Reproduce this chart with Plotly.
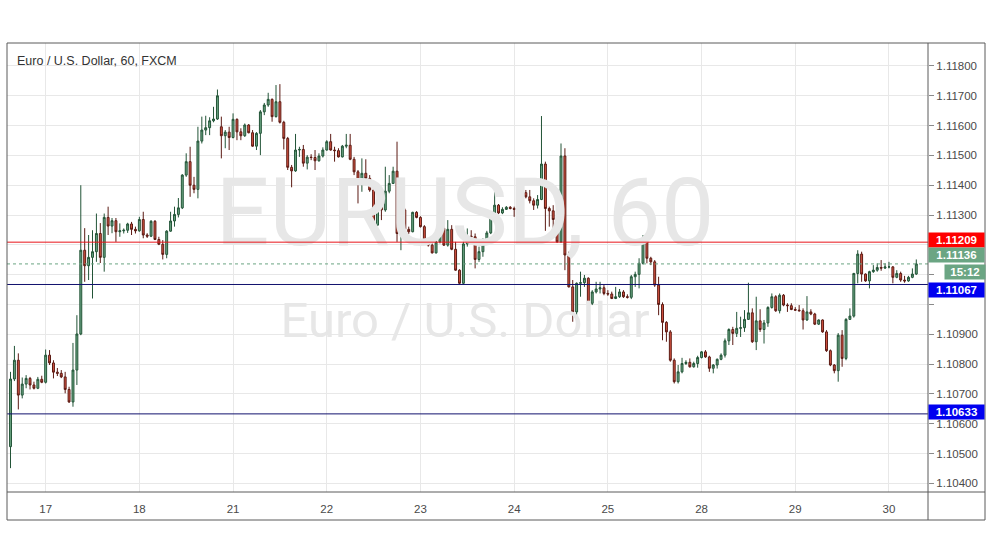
import plotly.graph_objects as go
from datetime import datetime, timedelta

# ---------------- data (EUR/USD, 60 min, FXCM) ----------------
open_ = [
    1.10523, 1.10750, 1.10813, 1.10696, 1.10733, 1.10752, 1.10730, 1.10719, 1.10749, 1.10739,
    1.10830, 1.10804, 1.10773, 1.10769, 1.10757, 1.10715, 1.10673, 1.10780, 1.10901, 1.11182,
    1.11130, 1.11158, 1.11177, 1.11238, 1.11158, 1.11292, 1.11263, 1.11281, 1.11244, 1.11247,
    1.11249, 1.11270, 1.11252, 1.11247, 1.11285, 1.11233, 1.11229, 1.11279, 1.11218, 1.11202,
    1.11168, 1.11246, 1.11280, 1.11302, 1.11324, 1.11434, 1.11479, 1.11400, 1.11386, 1.11548,
    1.11585, 1.11593, 1.11616, 1.11622, 1.11596, 1.11566, 1.11578, 1.11560, 1.11621, 1.11579,
    1.11566, 1.11602, 1.11576, 1.11531, 1.11574, 1.11646, 1.11669, 1.11688, 1.11630, 1.11680,
    1.11611, 1.11557, 1.11460, 1.11448, 1.11518, 1.11520, 1.11474, 1.11494, 1.11493, 1.11482,
    1.11498, 1.11518, 1.11546, 1.11518, 1.11516, 1.11495, 1.11531, 1.11534, 1.11487, 1.11445,
    1.11412, 1.11440, 1.11423, 1.11384, 1.11266, 1.11347, 1.11317, 1.11380, 1.11406, 1.11447,
    1.11238, 1.11317, 1.11252, 1.11244, 1.11309, 1.11292, 1.11261, 1.11216, 1.11199, 1.11173,
    1.11210, 1.11255, 1.11199, 1.11252, 1.11185, 1.11115, 1.11071, 1.11203, 1.11229, 1.11227,
    1.11151, 1.11177, 1.11210, 1.11240, 1.11289, 1.11333, 1.11307, 1.11319, 1.11326, 1.11322,
    1.11319, 1.11389, 1.11375, 1.11361, 1.11348, 1.11333, 1.11352, 1.11471, 1.11322, 1.11314,
    1.11285, 1.11210, 1.11498, 1.11166, 1.11059, 1.10975, 1.11071, 1.11073, 1.11088, 1.11004,
    1.11042, 1.11052, 1.11056, 1.11037, 1.11035, 1.11020, 1.11026, 1.11042, 1.11026, 1.11024,
    1.11093, 1.11101, 1.11138, 1.11210, 1.11155, 1.11143, 1.11065, 1.11000, 1.10940, 1.10908,
    1.10813, 1.10741, 1.10774, 1.10802, 1.10806, 1.10791, 1.10802, 1.10822, 1.10841, 1.10824,
    1.10786, 1.10797, 1.10816, 1.10830, 1.10878, 1.10916, 1.10903, 1.10920, 1.10922, 1.10950,
    1.10972, 1.10875, 1.10945, 1.10916, 1.10938, 1.10990, 1.11026, 1.10979, 1.11031, 1.10998,
    1.10996, 1.10983, 1.10981, 1.10979, 1.10948, 1.10975, 1.10968, 1.10934, 1.10948, 1.10908,
    1.10845, 1.10797, 1.10778, 1.10897, 1.10819, 1.10950, 1.10961, 1.11104, 1.11169, 1.11102,
    1.11079, 1.11110, 1.11115, 1.11124, 1.11122, 1.11126, 1.11126, 1.11091, 1.11104, 1.11082,
    1.11079, 1.11091, 1.11102,
]
high = [
    1.10774, 1.10861, 1.10836, 1.10755, 1.10763, 1.10757, 1.10741, 1.10757, 1.10761, 1.10849,
    1.10847, 1.10813, 1.10787, 1.10780, 1.10774, 1.10724, 1.10871, 1.10964, 1.11400, 1.11256,
    1.11233, 1.11249, 1.11305, 1.11273, 1.11305, 1.11328, 1.11290, 1.11290, 1.11272, 1.11255,
    1.11274, 1.11277, 1.11261, 1.11294, 1.11311, 1.11239, 1.11283, 1.11283, 1.11227, 1.11216,
    1.11249, 1.11311, 1.11328, 1.11357, 1.11437, 1.11507, 1.11529, 1.11428, 1.11596, 1.11630,
    1.11633, 1.11628, 1.11663, 1.11721, 1.11630, 1.11585, 1.11596, 1.11641, 1.11624, 1.11591,
    1.11607, 1.11605, 1.11585, 1.11578, 1.11652, 1.11676, 1.11710, 1.11691, 1.11736, 1.11739,
    1.11616, 1.11562, 1.11468, 1.11572, 1.11529, 1.11535, 1.11501, 1.11504, 1.11518, 1.11507,
    1.11527, 1.11551, 1.11572, 1.11529, 1.11524, 1.11535, 1.11572, 1.11572, 1.11495, 1.11451,
    1.11490, 1.11487, 1.11434, 1.11393, 1.11360, 1.11352, 1.11462, 1.11434, 1.11462, 1.11546,
    1.11361, 1.11322, 1.11261, 1.11311, 1.11313, 1.11296, 1.11266, 1.11218, 1.11210, 1.11214,
    1.11258, 1.11292, 1.11283, 1.11266, 1.11210, 1.11118, 1.11210, 1.11255, 1.11249, 1.11238,
    1.11194, 1.11222, 1.11247, 1.11294, 1.11412, 1.11337, 1.11326, 1.11330, 1.11330, 1.11328,
    1.11393, 1.11423, 1.11384, 1.11384, 1.11356, 1.11367, 1.11632, 1.11479, 1.11328, 1.11333,
    1.11296, 1.11540, 1.11524, 1.11177, 1.11082, 1.11074, 1.11110, 1.11099, 1.11091, 1.11048,
    1.11076, 1.11076, 1.11065, 1.11048, 1.11043, 1.11059, 1.11052, 1.11048, 1.11034, 1.11099,
    1.11110, 1.11155, 1.11233, 1.11231, 1.11160, 1.11149, 1.11093, 1.11007, 1.10944, 1.10914,
    1.10819, 1.10797, 1.10821, 1.10813, 1.10819, 1.10808, 1.10828, 1.10844, 1.10847, 1.10828,
    1.10800, 1.10819, 1.10836, 1.10886, 1.10920, 1.10925, 1.10975, 1.10959, 1.10981, 1.11073,
    1.10987, 1.11026, 1.10984, 1.10948, 1.10994, 1.11037, 1.11031, 1.11037, 1.11035, 1.11004,
    1.11004, 1.10991, 1.10998, 1.10987, 1.11028, 1.10984, 1.10972, 1.10950, 1.10950, 1.10914,
    1.10849, 1.10800, 1.10904, 1.10914, 1.10954, 1.10987, 1.11106, 1.11182, 1.11177, 1.11104,
    1.11113, 1.11132, 1.11138, 1.11149, 1.11138, 1.11143, 1.11129, 1.11115, 1.11110, 1.11096,
    1.11096, 1.11121, 1.11151,
]
low = [
    1.10451, 1.10743, 1.10648, 1.10685, 1.10719, 1.10715, 1.10715, 1.10716, 1.10736, 1.10735,
    1.10797, 1.10752, 1.10760, 1.10753, 1.10702, 1.10670, 1.10657, 1.10730, 1.10897, 1.11076,
    1.11082, 1.11020, 1.11143, 1.11139, 1.11110, 1.11233, 1.11239, 1.11210, 1.11227, 1.11238,
    1.11240, 1.11233, 1.11238, 1.11244, 1.11222, 1.11223, 1.11226, 1.11216, 1.11199, 1.11151,
    1.11155, 1.11244, 1.11261, 1.11292, 1.11320, 1.11428, 1.11361, 1.11373, 1.11356, 1.11540,
    1.11568, 1.11568, 1.11611, 1.11619, 1.11490, 1.11524, 1.11518, 1.11557, 1.11551, 1.11551,
    1.11562, 1.11574, 1.11529, 1.11518, 1.11501, 1.11635, 1.11663, 1.11613, 1.11627, 1.11607,
    1.11520, 1.11451, 1.11393, 1.11445, 1.11495, 1.11462, 1.11453, 1.11484, 1.11451, 1.11479,
    1.11493, 1.11516, 1.11516, 1.11479, 1.11493, 1.11493, 1.11524, 1.11484, 1.11434, 1.11339,
    1.11378, 1.11412, 1.11378, 1.11233, 1.11263, 1.11283, 1.11311, 1.11373, 1.11404, 1.11210,
    1.11182, 1.11249, 1.11236, 1.11242, 1.11289, 1.11258, 1.11214, 1.11194, 1.11171, 1.11171,
    1.11205, 1.11196, 1.11194, 1.11182, 1.11113, 1.11068, 1.11068, 1.11194, 1.11205, 1.11121,
    1.11143, 1.11160, 1.11207, 1.11236, 1.11283, 1.11303, 1.11303, 1.11317, 1.11319, 1.11294,
    1.11317, 1.11373, 1.11356, 1.11339, 1.11317, 1.11322, 1.11350, 1.11247, 1.11261, 1.11244,
    1.11207, 1.11207, 1.11115, 1.11057, 1.10942, 1.10937, 1.11026, 1.11059, 1.10998, 1.10998,
    1.11037, 1.11037, 1.11031, 1.11029, 1.11018, 1.11018, 1.11022, 1.11022, 1.11020, 1.11018,
    1.11059, 1.11054, 1.11134, 1.11138, 1.11132, 1.11059, 1.10964, 1.10880, 1.10875, 1.10808,
    1.10735, 1.10735, 1.10769, 1.10797, 1.10788, 1.10788, 1.10788, 1.10819, 1.10821, 1.10774,
    1.10769, 1.10785, 1.10813, 1.10822, 1.10864, 1.10864, 1.10891, 1.10891, 1.10908, 1.10948,
    1.10871, 1.10847, 1.10908, 1.10869, 1.10925, 1.10986, 1.10975, 1.10970, 1.10994, 1.10975,
    1.10981, 1.10979, 1.10976, 1.10916, 1.10945, 1.10964, 1.10931, 1.10931, 1.10905, 1.10841,
    1.10793, 1.10769, 1.10741, 1.10791, 1.10813, 1.10948, 1.10956, 1.11071, 1.11076, 1.11076,
    1.11054, 1.11106, 1.11110, 1.11113, 1.11119, 1.11121, 1.11071, 1.11088, 1.11076, 1.11073,
    1.11076, 1.11088, 1.11099,
]
close = [
    1.10750, 1.10813, 1.10696, 1.10733, 1.10752, 1.10730, 1.10719, 1.10749, 1.10739, 1.10830,
    1.10804, 1.10773, 1.10769, 1.10757, 1.10715, 1.10673, 1.10780, 1.10901, 1.11182, 1.11130,
    1.11158, 1.11177, 1.11238, 1.11158, 1.11292, 1.11263, 1.11281, 1.11244, 1.11247, 1.11249,
    1.11270, 1.11252, 1.11247, 1.11285, 1.11233, 1.11229, 1.11279, 1.11218, 1.11202, 1.11168,
    1.11246, 1.11280, 1.11302, 1.11324, 1.11434, 1.11479, 1.11400, 1.11386, 1.11548, 1.11585,
    1.11593, 1.11616, 1.11622, 1.11700, 1.11566, 1.11578, 1.11560, 1.11621, 1.11579, 1.11566,
    1.11602, 1.11576, 1.11531, 1.11574, 1.11646, 1.11669, 1.11688, 1.11630, 1.11680, 1.11611,
    1.11557, 1.11460, 1.11448, 1.11518, 1.11520, 1.11474, 1.11494, 1.11493, 1.11482, 1.11498,
    1.11518, 1.11546, 1.11518, 1.11516, 1.11495, 1.11531, 1.11534, 1.11487, 1.11445, 1.11412,
    1.11440, 1.11423, 1.11384, 1.11266, 1.11347, 1.11317, 1.11380, 1.11406, 1.11447, 1.11238,
    1.11317, 1.11252, 1.11244, 1.11309, 1.11292, 1.11261, 1.11216, 1.11199, 1.11173, 1.11210,
    1.11255, 1.11199, 1.11252, 1.11185, 1.11115, 1.11071, 1.11203, 1.11229, 1.11227, 1.11151,
    1.11177, 1.11210, 1.11240, 1.11289, 1.11333, 1.11307, 1.11319, 1.11326, 1.11322, 1.11319,
    1.11389, 1.11375, 1.11361, 1.11348, 1.11333, 1.11352, 1.11471, 1.11322, 1.11314, 1.11285,
    1.11210, 1.11498, 1.11166, 1.11059, 1.10975, 1.11071, 1.11073, 1.11088, 1.11004, 1.11042,
    1.11052, 1.11056, 1.11037, 1.11035, 1.11020, 1.11026, 1.11042, 1.11026, 1.11024, 1.11093,
    1.11101, 1.11138, 1.11210, 1.11155, 1.11143, 1.11065, 1.11000, 1.10940, 1.10908, 1.10813,
    1.10741, 1.10774, 1.10802, 1.10806, 1.10791, 1.10802, 1.10822, 1.10841, 1.10824, 1.10786,
    1.10797, 1.10816, 1.10830, 1.10878, 1.10916, 1.10903, 1.10920, 1.10922, 1.10950, 1.10972,
    1.10875, 1.10945, 1.10916, 1.10938, 1.10990, 1.11026, 1.10979, 1.11031, 1.10998, 1.10996,
    1.10983, 1.10981, 1.10979, 1.10948, 1.10975, 1.10968, 1.10934, 1.10948, 1.10908, 1.10845,
    1.10797, 1.10778, 1.10897, 1.10819, 1.10950, 1.10961, 1.11104, 1.11169, 1.11102, 1.11079,
    1.11110, 1.11115, 1.11124, 1.11122, 1.11126, 1.11126, 1.11091, 1.11104, 1.11082, 1.11079,
    1.11091, 1.11102, 1.11136,
]

first_bar_time = datetime(2019, 10, 16, 15, 0)
title_text = "Euro / U.S. Dollar, 60, FXCM"
watermark_main = "EURUSD, 60"
watermark_sub = "Euro / U.S. Dollar"
resistance_level = 1.11209
support_levels = [1.11067, 1.10633]
last_price = 1.11136
countdown_text = "15:12"
price_ticks = [1.104, 1.105, 1.106, 1.107, 1.108, 1.109, 1.110,
               1.111, 1.112, 1.113, 1.114, 1.115, 1.116, 1.117, 1.118]
# tick labels hidden behind the price badges on the scale (as in the reference)
hidden_price_ticks = [1.110, 1.111, 1.112]

# ---------------- hourly FX session timeline (no weekend hours) ----------------
bar_times = []
t = first_bar_time
while len(bar_times) < len(close):
    wd = t.weekday()
    closed = (wd == 4 and t.hour >= 21) or wd == 5 or (wd == 6 and t.hour < 21)
    if not closed:
        bar_times.append(t)
    t += timedelta(hours=1)
bar_index = list(range(len(close)))
day_ticks = [i for i, bt in enumerate(bar_times) if bt.hour == 0]
day_labels = [str(bar_times[i].day) for i in day_ticks]

price_ticktext = ["" if any(abs(p - h) < 1e-9 for h in hidden_price_ticks) else "%.5f" % p
                  for p in price_ticks]

# ---------------- geometry ----------------
W, H = 991, 556
ML, MR, MT, MB = 7, 63, 43, 64
PW, PH = W - ML - MR, H - MT - MB


def px_x(p):
    return (p - ML) / PW


def px_y(p):
    return (H - MB - p) / PH


x_range = [-0.9, 235.0]
y_range = [1.10371, 1.11877]

UP, DOWN = "#6ba583", "#d75442"
UP_LINE, DOWN_LINE = "#225437", "#5b1a13"
GRID = "#e8e8e8"
AXIS_TXT = "#4a4a4a"
FONT = "Liberation Sans, Arial, sans-serif"

fig = go.Figure()

# watermark (drawn first so candles sit on top)
wx = x_range[0] + px_x(465) * (x_range[1] - x_range[0])
wy1 = y_range[0] + px_y(221) * (y_range[1] - y_range[0])
wy2 = y_range[0] + px_y(325) * (y_range[1] - y_range[0])
fig.add_trace(go.Scatter(
    x=[wx, wx], y=[wy1, wy2], mode="text",
    text=[watermark_main, watermark_sub],
    textfont=dict(size=[95, 49], color="#e7e7e7", family="Roboto, Arial, sans-serif"),
    textposition="middle center", hoverinfo="skip", showlegend=False,
))

fig.add_trace(go.Candlestick(
    x=bar_index, open=open_, high=high, low=low, close=close,
    increasing=dict(line=dict(color=UP_LINE, width=1), fillcolor=UP),
    decreasing=dict(line=dict(color=DOWN_LINE, width=1), fillcolor=DOWN),
    whiskerwidth=0, hoverinfo="skip", showlegend=False,
))

shapes = []
# level lines
shapes.append(dict(type="line", xref="paper", yref="y", x0=0, x1=1,
                   y0=resistance_level, y1=resistance_level,
                   line=dict(color="#e8141a", width=1)))
for lv in support_levels:
    shapes.append(dict(type="line", xref="paper", yref="y", x0=0, x1=1,
                       y0=lv, y1=lv, line=dict(color="#12126e", width=1)))
shapes.append(dict(type="line", xref="paper", yref="y", x0=0, x1=1,
                   y0=last_price, y1=last_price,
                   line=dict(color=UP, width=1, dash="dot")))
# frame
frame_c = "#5a5a5a"
shapes.append(dict(type="rect", xref="paper", yref="paper",
                   x0=px_x(7), x1=px_x(985), y0=px_y(520), y1=px_y(43),
                   line=dict(color=frame_c, width=1), fillcolor="rgba(0,0,0,0)"))
shapes.append(dict(type="line", xref="paper", yref="paper",
                   x0=px_x(928), x1=px_x(928), y0=px_y(520), y1=px_y(43),
                   line=dict(color=frame_c, width=1)))
shapes.append(dict(type="line", xref="paper", yref="paper",
                   x0=px_x(7), x1=px_x(985), y0=px_y(492), y1=px_y(492),
                   line=dict(color=frame_c, width=1)))

annotations = [
    dict(text=title_text, xref="paper", yref="paper", x=px_x(15), y=px_y(61),
         xanchor="left", yanchor="middle", showarrow=False,
         font=dict(size=12.5, color="#333333", family=FONT)),
]


def price_label(val, text, bg, yshift=0, width=53, left=928):
    return dict(text="<b>%s</b>" % text, xref="paper", yref="y",
                x=px_x(left), y=val, xanchor="left", yanchor="middle",
                yshift=yshift, showarrow=False, bgcolor=bg, width=width,
                height=12, borderpad=1, align="center",
                font=dict(size=11.5, color="white", family=FONT))


annotations.append(price_label(resistance_level, "%.5f" % resistance_level, "#ff0000", yshift=2))
annotations.append(price_label(last_price, "%.5f" % last_price, UP, yshift=9))
annotations.append(price_label(last_price, countdown_text, UP, yshift=-8, width=38, left=944))
annotations.append(price_label(support_levels[0], "%.5f" % support_levels[0], "#0000f0", yshift=-6))
annotations.append(price_label(support_levels[1], "%.5f" % support_levels[1], "#0000f0", yshift=2))

fig.update_layout(
    width=W, height=H,
    margin=dict(l=ML, r=MR, t=MT, b=MB, pad=0),
    paper_bgcolor="white", plot_bgcolor="white",
    showlegend=False,
    shapes=shapes, annotations=annotations,
    xaxis=dict(range=x_range, rangeslider=dict(visible=False),
               tickmode="array", tickvals=day_ticks, ticktext=day_labels,
               showgrid=True, gridcolor=GRID, gridwidth=1, zeroline=False,
               showline=False, ticks="", ticklabelstandoff=8,
               tickfont=dict(size=11.5, color=AXIS_TXT, family=FONT)),
    yaxis=dict(range=y_range, side="right", tickmode="array",
               tickvals=price_ticks, ticktext=price_ticktext,
               showgrid=True, gridcolor=GRID, gridwidth=1, zeroline=False,
               showline=False, ticks="outside", ticklen=5, tickcolor="#8a8a8a",
               tickfont=dict(size=11.5, color=AXIS_TXT, family=FONT)),
)

fig.write_html(
    "out.html",
    config={"displayModeBar": False},
    post_script="document.body.style.margin='0';document.body.style.padding='0';"
                "document.body.style.overflow='hidden';",
)
